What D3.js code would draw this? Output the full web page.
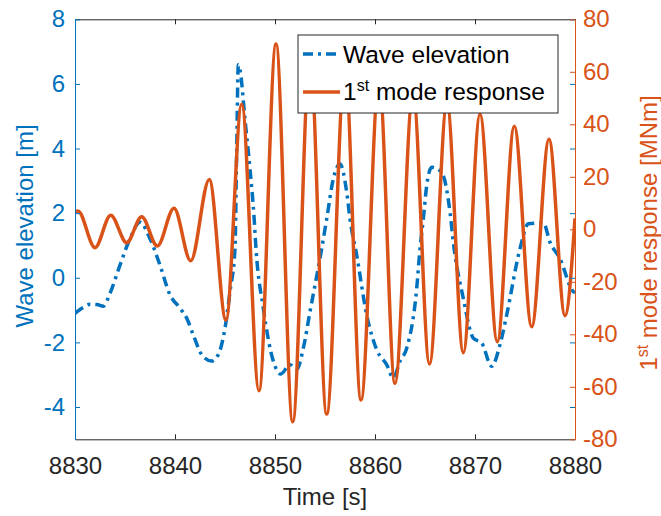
<!DOCTYPE html>
<html>
<head>
<meta charset="utf-8">
<script src="https://cdn.jsdelivr.net/npm/d3@7"></script>
<style>
  body { margin: 0; background: #fff; }
  svg { display: block; font-family: "Liberation Sans", Arial, Helvetica, sans-serif; }
</style>
</head>
<body>
<div id="chart"></div>
<script>
// values
const waveTime = [8830.00, 8830.80, 8831.50, 8832.20, 8832.83, 8833.50, 8834.50, 8835.50, 8836.50, 8837.50,
  8838.50, 8839.50, 8840.50, 8841.17, 8841.83, 8842.67, 8843.67, 8844.33, 8845.00, 8845.50,
  8846.00, 8846.17, 8846.33, 8846.50, 8847.00, 8847.50, 8847.90, 8848.10, 8848.83, 8849.83,
  8850.57, 8851.50, 8852.17, 8852.83, 8853.50, 8854.67, 8855.17, 8855.83, 8856.50, 8857.17,
  8857.50, 8858.17, 8859.17, 8860.17, 8861.17, 8861.83, 8862.50, 8863.17, 8864.17, 8864.50,
  8864.83, 8865.17, 8865.67, 8866.67, 8867.50, 8867.83, 8868.83, 8869.83, 8870.67, 8871.67,
  8872.50, 8873.17, 8874.50, 8875.33, 8876.83, 8877.50, 8878.50, 8879.83, 8880.00];
const waveElev = [-1.10, -0.92, -0.82, -0.83, -0.88, -0.48, 0.39, 1.21, 1.72, 1.21,
  0.39, -0.53, -0.94, -1.25, -1.77, -2.38, -2.58, -2.38, -1.56, -0.43,
  0.90, 3.98, 6.59, 6.44, 4.90, 3.36, 1.90, 0.90, -0.94, -2.58,
  -2.98, -2.69, -2.84, -2.18, -1.05, 0.90, 1.82, 3.06, 3.52, 2.65,
  1.82, 0.70, -1.15, -2.23, -2.69, -3.10, -2.58, -2.18, -0.33, 0.90,
  1.82, 2.85, 3.42, 3.26, 2.03, 1.10, -0.64, -1.87, -2.02, -2.74,
  -2.07, -1.15, 0.90, 1.67, 1.70, 1.10, 0.59, -0.43, -0.46];

const modeTime = [8830.0, 8830.3, 8832.0, 8833.57, 8835.17, 8836.67, 8838.23, 8839.9, 8841.57, 8843.43,
  8845.1, 8846.67, 8848.4, 8850.1, 8851.77, 8853.5, 8855.17, 8857.0, 8858.6, 8860.4,
  8862.0, 8863.8, 8865.45, 8867.2, 8868.83, 8870.5, 8872.23, 8873.93, 8875.67, 8877.4,
  8879.0, 8880.0];
const modeResp = [6.6, 7.0, -7.0, 5.4, -5.1, 4.8, -6.4, 8.0, -12.0, 19.0,
  -34.6, 47.6, -61.5, 70.6, -73.3, 66, -70.4, 62, -65, 57,
  -58.7, 52, -51.3, 48, -47, 43.8, -42.8, 39.3, -37.1, 34.3,
  -32.9, 4.2];

const xTicks = [8830, 8840, 8850, 8860, 8870, 8880];
const leftTicks = [-4, -2, 0, 2, 4, 6, 8];
const rightTicks = [-80, -60, -40, -20, 0, 20, 40, 60, 80];

const blue = "#0072BD";
const orange = "#D95319";
const dark = "#262626";
const plain = d => String(d); // hyphen minus, as in the original

const W = 661, H = 516;
const margin = { top: 19.3, right: 86, bottom: 76.7, left: 75 };
const width = W - margin.left - margin.right;
const height = H - margin.top - margin.bottom;

const svg = d3.select("#chart").append("svg")
  .attr("width", W)
  .attr("height", H);

const g = svg.append("g")
  .attr("transform", `translate(${margin.left},${margin.top})`);

const x = d3.scaleLinear().domain([8830, 8880]).range([0, width]);
const yL = d3.scaleLinear().domain([-5, 8]).range([height, 0]);
const yR = d3.scaleLinear().domain([-80, 80]).range([height, 0]);

g.append("clipPath").attr("id", "clip")
  .append("rect").attr("width", width).attr("height", height);

const waveData = waveTime.map((t, i) => [t, waveElev[i]]);
const modeData = modeTime.map((t, i) => [t, modeResp[i]]);

const waveLine = d3.line()
  .x(d => x(d[0])).y(d => yL(d[1]))
  .curve(d3.curveMonotoneX);
const modeLine = d3.line()
  .x(d => x(d[0])).y(d => yR(d[1]))
  .curve(d3.curveMonotoneX);

const plot = g.append("g").attr("clip-path", "url(#clip)");

plot.append("path")
  .datum(waveData)
  .attr("fill", "none")
  .attr("stroke", blue)
  .attr("stroke-width", 3.5)
  .attr("stroke-dasharray", "10,5,3,5")
  .attr("d", waveLine);

plot.append("path")
  .datum(modeData)
  .attr("fill", "none")
  .attr("stroke", orange)
  .attr("stroke-width", 3.5)
  .attr("d", modeLine);

// axes
function styleAxis(sel, color) {
  sel.selectAll(".domain").attr("stroke", color).attr("stroke-width", 1);
  sel.selectAll(".tick line").attr("stroke", color).attr("stroke-width", 1);
  sel.selectAll(".tick text")
    .attr("fill", color)
    .style("font-size", "24px")
    .style("font-family", "\"Liberation Sans\", Arial, Helvetica, sans-serif");
}

const bottomAxis = g.append("g")
  .attr("transform", `translate(0,${height})`)
  .call(d3.axisBottom(x).tickValues(xTicks).tickFormat(plain)
    .tickSizeInner(-5).tickSizeOuter(0).tickPadding(18));
styleAxis(bottomAxis, dark);

const topAxis = g.append("g")
  .call(d3.axisTop(x).tickValues(xTicks).tickFormat("")
    .tickSizeInner(-5).tickSizeOuter(0));
styleAxis(topAxis, dark);

const leftAxis = g.append("g")
  .call(d3.axisLeft(yL).tickValues(leftTicks).tickFormat(plain)
    .tickSizeInner(-5).tickSizeOuter(0).tickPadding(10));
styleAxis(leftAxis, blue);

// left-axis ticks mirrored on the right edge
const mirror = g.append("g")
  .attr("transform", `translate(${width},0)`)
  .call(d3.axisLeft(yL).tickValues(leftTicks).tickFormat("")
    .tickSizeInner(5).tickSizeOuter(0));
mirror.select(".domain").remove();
styleAxis(mirror, blue);

const rightAxis = g.append("g")
  .attr("transform", `translate(${width},0)`)
  .call(d3.axisRight(yR).tickValues(rightTicks).tickFormat(plain)
    .tickSizeInner(-5).tickSizeOuter(0).tickPadding(8));
styleAxis(rightAxis, orange);

// axis titles
svg.append("text")
  .attr("x", margin.left + width / 2)
  .attr("y", 505)
  .attr("text-anchor", "middle")
  .attr("fill", dark)
  .style("font-size", "24px")
  .text("Time [s]");

svg.append("text")
  .attr("transform", "translate(33,226) rotate(-90)")
  .attr("text-anchor", "middle")
  .attr("fill", blue)
  .style("font-size", "24px")
  .text("Wave elevation [m]");

const rTitle = svg.append("text")
  .attr("transform", "translate(657,233) rotate(-90)")
  .attr("text-anchor", "middle")
  .attr("fill", orange)
  .style("font-size", "24px");
rTitle.append("tspan").text("1");
rTitle.append("tspan").attr("dy", -9).style("font-size", "16px").text("st");
rTitle.append("tspan").attr("dy", 9).text(" mode response [MNm]");

// legend
const legend = svg.append("g").attr("transform", "translate(298,35)");
legend.append("rect")
  .attr("width", 260).attr("height", 78)
  .attr("fill", "#fff")
  .attr("stroke", dark)
  .attr("stroke-width", 1);

const legendItems = [
  { color: blue, dash: "10,5,3,5", y: 19 },
  { color: orange, dash: null, y: 57 }
];
legend.selectAll("line.key")
  .data(legendItems)
  .enter().append("line")
  .attr("class", "key")
  .attr("x1", 5).attr("x2", 42)
  .attr("y1", d => d.y).attr("y2", d => d.y)
  .attr("stroke", d => d.color)
  .attr("stroke-width", 3.5)
  .attr("stroke-dasharray", d => d.dash);

legend.append("text")
  .attr("x", 45).attr("y", 28)
  .attr("fill", "#000")
  .style("font-size", "24.5px")
  .text("Wave elevation");

const t2 = legend.append("text")
  .attr("x", 45).attr("y", 65)
  .attr("fill", "#000")
  .style("font-size", "24.5px");
t2.append("tspan").text("1");
t2.append("tspan").attr("dy", -9).style("font-size", "16px").text("st");
t2.append("tspan").attr("dy", 9).text(" mode response");
</script>
</body>
</html>
